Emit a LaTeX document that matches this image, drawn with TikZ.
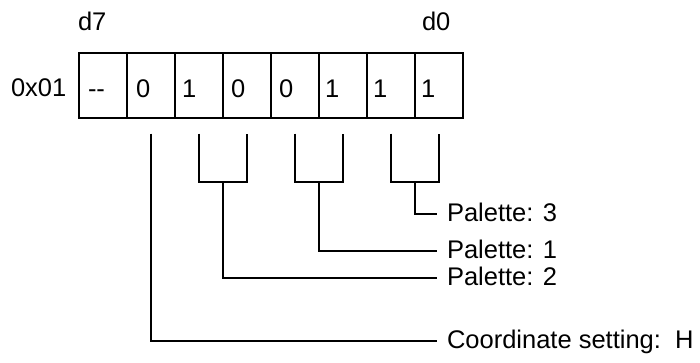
\documentclass[tikz,border=0pt]{standalone}
\usepackage{fontspec}
\setmainfont{Liberation Sans}
\usetikzlibrary{calc}
\begin{document}
\begin{tikzpicture}[x=1pt,y=-1pt,line width=2pt,
  cell/.style={draw,minimum width=48pt,minimum height=65pt,inner sep=0pt,outer sep=0pt},
  txt/.style={font=\fontsize{25.5}{30}\selectfont,inner sep=0pt,anchor=base west},
  lbl/.style={font=\fontsize{25.5}{30}\selectfont,inner ysep=0pt,inner xsep=9pt,
    text height=18.3pt,text depth=4.3pt,anchor=west},
  wire/.style={draw,line width=2pt}]
\useasboundingbox (0,0) rectangle (700,362);
% register cells
\node[cell] (c7) at (103,85) {};
\node[cell] (c6) at (151,85) {};
\node[cell] (c5) at (199,85) {};
\node[cell] (c4) at (247,85) {};
\node[cell] (c3) at (295,85) {};
\node[cell] (c2) at (343,85) {};
\node[cell] (c1) at (391,85) {};
\node[cell] (c0) at (439,85) {};
% cell values
\node[txt] (v7) at (87,97) {\mbox{-}\mbox{-}};
\node[txt] (v6) at (135,97) {0};
\node[txt] (v5) at (181,97) {1};
\node[txt] (v4) at (230,97) {0};
\node[txt] (v3) at (278,97) {0};
\node[txt] (v2) at (324,97) {1};
\node[txt] (v1) at (372,97) {1};
\node[txt] (v0) at (420,97) {1};
% header labels
\node[txt] (reg) at (10,96) {0x01};
\node[txt] (d7) at (77,30) {d7};
\node[txt] (d0) at (421,30) {d0};
% field labels
\node[lbl] (p3) at (437,214) {Palette: 3};
\node[lbl] (p1) at (437,251) {Palette: 1};
\node[lbl] (p2) at (437,278) {Palette: 2};
\node[lbl] (cs) at (437,341) {Coordinate setting:\ \ H};
% bracket joints
\coordinate (m54) at ($(c5.south)!0.5!(c4.south)+(0,64)$);
\coordinate (m32) at ($(c3.south)!0.5!(c2.south)+(0,64)$);
\coordinate (m10) at ($(c1.south)!0.5!(c0.south)+(0,64)$);
% connectors
\draw[wire] ($(c6.south)+(0,16)$) |- (cs.west);
\draw[wire] ($(c5.south)+(0,16)$) |- (m54) -| ($(c4.south)+(0,16)$);
\draw[wire] ($(c3.south)+(0,16)$) |- (m32) -| ($(c2.south)+(0,16)$);
\draw[wire] ($(c1.south)+(0,16)$) |- (m10) -| ($(c0.south)+(0,16)$);
\draw[wire] (m54) |- (p2.west);
\draw[wire] (m32) |- (p1.west);
\draw[wire] (m10) |- (p3.west);
\end{tikzpicture}
\end{document}
